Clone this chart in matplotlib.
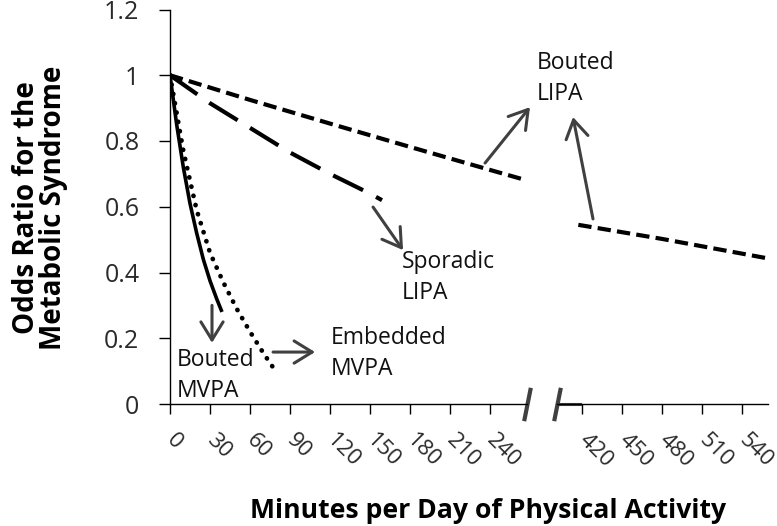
import matplotlib
matplotlib.use('Agg')
import matplotlib.pyplot as plt

plt.rcParams['font.family'] = ['Open Sans', 'DejaVu Sans']

#Valores: minutos por dia y odds ratio
bouted_mvpa_x = [0, 5, 10, 15, 20, 25, 30, 35, 39]
bouted_mvpa_y = [1.0, 0.85, 0.72, 0.61, 0.52, 0.44, 0.375, 0.32, 0.28]

embedded_mvpa_x = [0, 10, 20, 30, 40, 50, 60, 70, 77]
embedded_mvpa_y = [1.0, 0.77, 0.59, 0.46, 0.37, 0.29, 0.22, 0.155, 0.113]

sporadic_lipa_x = [0, 30, 60, 90, 120, 150, 159]
sporadic_lipa_y = [1.0, 0.915, 0.84, 0.765, 0.70, 0.64, 0.62]

bouted_lipa_x = [0, 60, 120, 180, 240, 266]
bouted_lipa_y = [1.0, 0.925, 0.853, 0.782, 0.712, 0.682]
bouted_lipa_x2 = [417, 480, 559]
bouted_lipa_y2 = [0.545, 0.502, 0.443]

left_ticks = [0, 30, 60, 90, 120, 150, 180, 210, 240]
right_ticks = [420, 450, 480, 510, 540]
y_ticks = [0, 0.2, 0.4, 0.6, 0.8, 1.0, 1.2]
y_tick_labels = ['0', '0.2', '0.4', '0.6', '0.8', '1', '1.2']

arrow_color = '#404040'
tick_color = '#2a2a2a'

fig = plt.figure(figsize=(7.77, 5.26), dpi=100)
ax1 = fig.add_axes([170/777, 122/526, 357/777, 394.5/526])
ax2 = fig.add_axes([557/777, 122/526, 211/777, 394.5/526])

for ax in (ax1, ax2):
    ax.set_facecolor('none')
    ax.set_ylim(0, 1.2)
    ax.spines['top'].set_visible(False)
    ax.spines['right'].set_visible(False)
    ax.spines['bottom'].set_linewidth(1.0)
    ax.tick_params(axis='x', direction='out', length=7, width=1.0, pad=17,
                   labelsize=16, labelcolor=tick_color)

ax1.set_xlim(0, 267.75)
ax2.set_xlim(401, 559.25)
ax2.spines['left'].set_visible(False)
ax2.yaxis.set_visible(False)
ax1.spines['left'].set_linewidth(1.0)

ax1.set_yticks(y_ticks)
ax1.set_yticklabels(y_tick_labels)
ax1.tick_params(axis='y', direction='out', length=8, width=1.0, pad=14,
                labelsize=18, labelcolor=tick_color)

ax1.set_xticks(left_ticks)
ax2.set_xticks(right_ticks)
for ax in (ax1, ax2):
    for lab in ax.get_xticklabels():
        lab.set_rotation(-45)
        lab.set_rotation_mode('anchor')
        lab.set_ha('left')
        lab.set_va('center')

#Lineas
ax1.plot(bouted_mvpa_x, bouted_mvpa_y, color='black', lw=2.6, solid_capstyle='butt')
ax1.plot(embedded_mvpa_x, embedded_mvpa_y, color='black', lw=3.4,
         dashes=(0.05, 1.95), dash_capstyle='round')
ax1.plot(sporadic_lipa_x, sporadic_lipa_y, color='black', lw=3.0, dashes=(8, 3.5))
ax1.plot(bouted_lipa_x, bouted_lipa_y, color='black', lw=3.0, dashes=(3.2, 1.5))
ax2.plot(bouted_lipa_x2, bouted_lipa_y2, color='black', lw=3.0, dashes=(3.2, 1.5))

#Marcas del corte del eje
brk = dict(marker=[(-0.2, -1), (0.2, 1)], markersize=24, color=arrow_color,
           mew=3, linestyle='none', clip_on=False)
ax1.plot([1], [0], transform=ax1.transAxes, **brk)
ax2.plot([0], [0], transform=ax2.transAxes, **brk)
ax2.plot([0, 0.11], [0, 0], transform=ax2.transAxes, color=arrow_color, lw=2.2,
         clip_on=False)

def arrow(ax, tail, head):
    ax.annotate('', xy=head, xytext=tail, annotation_clip=False,
                arrowprops=dict(arrowstyle='->,head_length=0.65,head_width=0.4',
                                color=arrow_color, lw=2.2, shrinkA=0, shrinkB=0,
                                mutation_scale=20))

arrow(ax1, (31.5, 0.30), (31.5, 0.186))
arrow(ax1, (77.3, 0.158), (108.8, 0.158))
arrow(ax1, (152.3, 0.599), (174.8, 0.468))
arrow(ax1, (236.3, 0.733), (270.0, 0.903))
arrow(ax2, (428.0, 0.563), (413.0, 0.873))

#Etiquetas de las series (y = linea base de la ultima linea)
txt = dict(fontsize=16.5, color='#111111', ha='left', va='baseline',
           linespacing=1.38, clip_on=False)
ax1.text(5.3, 0.0213, 'Bouted\nMVPA', **txt)
ax1.text(120.8, 0.0882, 'Embedded\nMVPA', **txt)
ax1.text(174.0, 0.3194, 'Sporadic\nLIPA', **txt)
ax1.text(275.3, 0.9247, 'Bouted\nLIPA', **txt)

fig.text(40/777, 1 - 208/526, 'Odds Ratio for the\nMetabolic Syndrome',
         rotation=90, ha='center', va='center', fontsize=20, fontweight='bold',
         multialignment='center', linespacing=0.93)
fig.text(488/777, 8/526, 'Minutes per Day of Physical Activity',
         ha='center', va='baseline', fontsize=19.2, fontweight='bold')

fig.savefig('out.png', dpi=100)
